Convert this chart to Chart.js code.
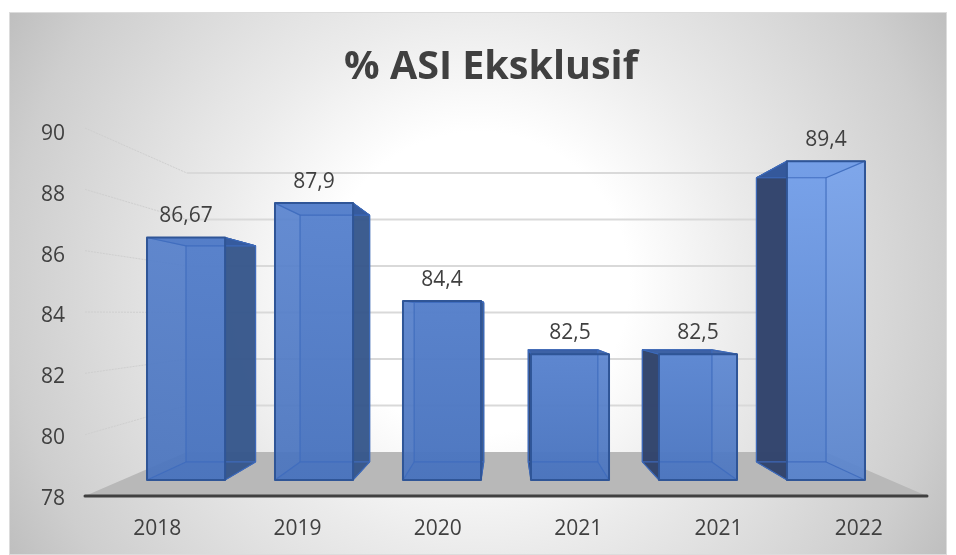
<!DOCTYPE html>
<html>
<head>
<meta charset="utf-8">
<title>% ASI Eksklusif</title>
<script src="https://cdn.jsdelivr.net/npm/chart.js@4"></script>
<style>
  html, body { margin: 0; padding: 0; background: #fff; }
  #wrap { width: 956px; height: 555px; }
</style>
</head>
<body>
<div id="wrap"><canvas id="asiChart" width="956" height="555"></canvas></div>
<script>
// chart data
const categories = ["2018", "2019", "2020", "2021", "2021", "2022"];
const asiValues = [86.67, 87.9, 84.4, 82.5, 82.5, 89.4];
const yMin = 78;
const yMax = 90;
const yStep = 2;

// face colours per bar, top to bottom of the front face
const faceTop = ["#5680cb", "#5a84cf", "#5680cb", "#5a84cf", "#5c87d2", "#78a3ec"];
const faceBottom = ["#4a74be", "#4a74be", "#4a74be", "#4a74be", "#4c76c0", "#5a84cc"];

// perspective of the 3d box: everything shrinks towards this point
const vanishX = 506;
const vanishY = 314;
const depthBarFront = 0.912;
const depthBarBack = 0.813;
const depthWall = 0.758;

// front plane is a bit taller than the tick label column
function frontY(chart, py) {
  const area = chart.chartArea;
  return area.bottom - (area.bottom - py) * (368 / 365);
}

function project(chart, px, py, depth) {
  return [
    vanishX + (px - vanishX) * depth,
    vanishY + (frontY(chart, py) - vanishY) * depth,
  ];
}

function fillPoly(ctx, pts, fill, stroke, lineWidth) {
  ctx.beginPath();
  pts.forEach((p, i) => (i ? ctx.lineTo(p[0], p[1]) : ctx.moveTo(p[0], p[1])));
  ctx.closePath();
  if (fill) {
    ctx.fillStyle = fill;
    ctx.fill();
  }
  if (stroke) {
    ctx.strokeStyle = stroke;
    ctx.lineWidth = lineWidth;
    ctx.lineJoin = "round";
    ctx.stroke();
  }
}

function drawLine(ctx, a, b, color, width, dash) {
  ctx.beginPath();
  ctx.setLineDash(dash || []);
  ctx.moveTo(a[0], a[1]);
  ctx.lineTo(b[0], b[1]);
  ctx.strokeStyle = color;
  ctx.lineWidth = width;
  ctx.stroke();
  ctx.setLineDash([]);
}

// grey card behind the chart
const cardPlugin = {
  id: "card",
  beforeDraw(chart) {
    const ctx = chart.ctx;
    const x = 9, y = 12, w = 938, h = 543;
    const g = ctx.createRadialGradient(478, 283, 0, 478, 283, 540);
    g.addColorStop(0, "#ffffff");
    g.addColorStop(0.28, "#ffffff");
    g.addColorStop(0.5, "#ebebeb");
    g.addColorStop(0.87, "#cecece");
    g.addColorStop(1, "#bfbfbf");
    ctx.save();
    ctx.fillStyle = g;
    ctx.fillRect(x, y, w, h);
    ctx.strokeStyle = "#dcdcdc";
    ctx.lineWidth = 1;
    ctx.strokeRect(x + 0.5, y + 0.5, w - 1, h - 1);
    ctx.restore();
  },
};

// floor, gridlines and the bars as boxes, all from the chart scales
const boxPlugin = {
  id: "box",
  beforeDatasetsDraw(chart) {
    const ctx = chart.ctx;
    const yScale = chart.scales.y;
    const area = chart.chartArea;
    const basePx = yScale.getPixelForValue(yMin);
    ctx.save();

    const fl = project(chart, area.left, basePx, 1);
    const fr = project(chart, area.right, basePx, 1);
    const bl = project(chart, area.left, basePx, depthWall);
    const br = project(chart, area.right, basePx, depthWall);
    fillPoly(ctx, [fl, fr, br, bl], "#b8b8b8");

    yScale.ticks.forEach((tick) => {
      const py = yScale.getPixelForValue(tick.value);
      const a = project(chart, area.left, py, 1);
      const b = project(chart, area.left, py, depthWall);
      const c = project(chart, area.right, py, depthWall);
      if (tick.value !== yMin) {
        drawLine(ctx, a, b, "#cfcfcf", 1, [2, 1]);
        drawLine(ctx, b, c, "#d9d9d9", 2);
      }
    });

    ctx.lineCap = "round";
    drawLine(ctx, fl, fr, "#404040", 3);
    ctx.lineCap = "butt";

    const meta = chart.getDatasetMeta(0);
    meta.data.forEach((bar, i) => {
      const left = bar.x - bar.width / 2;
      const right = bar.x + bar.width / 2;
      const top = bar.y;

      const ftl = project(chart, left, top, depthBarFront);
      const ftr = project(chart, right, top, depthBarFront);
      const fbl = project(chart, left, basePx, depthBarFront);
      const fbr = project(chart, right, basePx, depthBarFront);
      const btl = project(chart, left, top, depthBarBack);
      const btr = project(chart, right, top, depthBarBack);
      const bbl = project(chart, left, basePx, depthBarBack);
      const bbr = project(chart, right, basePx, depthBarBack);

      const edge = "#2f5597";
      const inner = "rgba(62, 108, 190, 0.9)";

      // back face, seen through the front
      fillPoly(ctx, [btl, btr, bbr, bbl], "rgba(70, 115, 195, 0.6)");

      // floor of the bar
      fillPoly(ctx, [fbl, fbr, bbr, bbl], "rgba(60, 100, 175, 0.6)");

      // side face that shows outside the front, depends on side of the vanishing point
      if (right < vanishX) {
        fillPoly(ctx, [ftr, btr, bbr, fbr], "rgba(52, 84, 135, 0.9)", edge, 1);
      }
      if (left > vanishX) {
        fillPoly(ctx, [ftl, btl, bbl, fbl], "rgba(48, 66, 105, 0.95)", edge, 1);
      }
      // top of the box
      fillPoly(ctx, [ftl, ftr, btr, btl], "rgba(52, 90, 160, 0.9)", edge, 1);

      // front face
      const g = ctx.createLinearGradient(0, ftl[1], 0, fbl[1]);
      g.addColorStop(0, faceTop[i]);
      g.addColorStop(1, faceBottom[i]);
      ctx.globalAlpha = 0.93;
      fillPoly(ctx, [ftl, ftr, fbr, fbl], g);
      ctx.globalAlpha = 1;

      // back edges and perspective edges through the front
      drawLine(ctx, btl, btr, inner, 1.2);
      drawLine(ctx, bbl, bbr, inner, 1.2);
      drawLine(ctx, btl, bbl, inner, 1.2);
      drawLine(ctx, btr, bbr, inner, 1.2);
      drawLine(ctx, ftl, btl, inner, 1.2);
      drawLine(ctx, ftr, btr, inner, 1.2);
      drawLine(ctx, fbl, bbl, inner, 1.2);
      drawLine(ctx, fbr, bbr, inner, 1.2);

      fillPoly(ctx, [ftl, ftr, fbr, fbl], null, edge, 2);
    });

    // value labels over the middle of each front face
    ctx.font = '21px "Open Sans"';
    ctx.fillStyle = "#404040";
    ctx.textAlign = "center";
    ctx.textBaseline = "middle";
    meta.data.forEach((bar, i) => {
      const p = project(chart, bar.x, bar.y, depthBarFront);
      ctx.fillText(String(asiValues[i]).replace(".", ","), p[0], p[1] - 21);
    });

    ctx.restore();
    return false; // skip the flat bars
  },
};

new Chart(document.getElementById("asiChart").getContext("2d"), {
  type: "bar",
  data: {
    labels: categories,
    datasets: [
      {
        label: "% ASI Eksklusif",
        data: asiValues,
        backgroundColor: "#5b84cc",
        borderColor: "#2f5597",
        barPercentage: 0.61,
        categoryPercentage: 1,
      },
    ],
  },
  options: {
    responsive: false,
    animation: false,
    layout: {
      autoPadding: false,
      padding: { left: 26, right: 0, top: 0, bottom: 0 },
    },
    plugins: {
      legend: { display: false },
      tooltip: { enabled: false },
      title: {
        display: true,
        text: "% ASI Eksklusif",
        color: "#404040",
        font: { family: '"Open Sans"', size: 39.5, weight: "bold", lineHeight: 1.2 },
        padding: { top: 44.5, bottom: 39.1 },
      },
    },
    scales: {
      x: {
        grid: { display: false },
        border: { display: false },
        ticks: {
          color: "#404040",
          font: { family: '"Open Sans"', size: 21 },
          padding: 12,
          labelOffset: 2,
          maxRotation: 0,
          autoSkip: false,
        },
        afterFit(scale) {
          scale.height = 59;
        },
      },
      y: {
        min: yMin,
        max: yMax,
        grid: { display: false },
        border: { display: false },
        ticks: {
          stepSize: yStep,
          color: "#404040",
          font: { family: '"Open Sans"', size: 21 },
          padding: 12,
          labelOffset: 3,
        },
        afterFit(scale) {
          scale.width = 59;
        },
      },
      // empty axis, only keeps the plot clear of the right edge
      spacer: {
        position: "right",
        grid: { display: false },
        border: { display: false },
        ticks: { display: false },
        afterFit(scale) {
          scale.width = 29;
        },
      },
    },
  },
  plugins: [cardPlugin, boxPlugin],
});
</script>
</body>
</html>
